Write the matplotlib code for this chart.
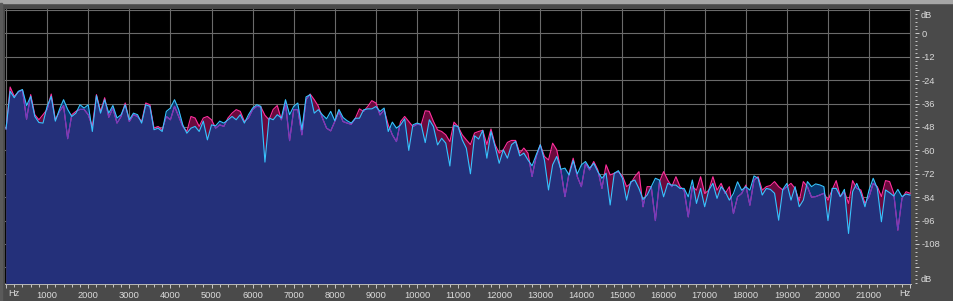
import numpy as np
import matplotlib.pyplot as plt
from matplotlib.ticker import MultipleLocator
from matplotlib.patches import Rectangle

plt.rcParams['font.family'] = ['Liberation Sans', 'DejaVu Sans']

# spectrum levels (dB) read every 100 Hz, 0 .. 22000 Hz
cyan_db = [
    -49, -29.7, -33, -29.7, -28.8, -37, -32.3, -42.6, -45.7, -46,
    -37.4, -32.3, -45, -39, -34, -39, -42.6, -40.9, -36.6, -38.3,
    -36.6, -50.3, -31.9, -40.9, -34, -40.9, -37, -43.4, -41.7, -36.6,
    -44.3, -40.9, -41.7, -46, -36.6, -37.4, -49.4, -48.6, -50.3, -40,
    -38.3, -34, -39, -46.9, -51.2, -48.6, -47.7, -50.3, -45, -54.6,
    -46.9, -47.4, -45, -46, -44.3, -42.6, -44.3, -41.7, -46, -41.7,
    -38.3, -36.6, -37.4, -66, -43.4, -44.3, -41.7, -43.4, -34, -41.7,
    -37.4, -35.7, -49.4, -32.6, -31.4, -40.9, -39.1, -41.8, -43.8, -40,
    -44.8, -39, -43.1, -44.8, -46, -43.5, -43.5, -39.2, -38.7, -38.7,
    -37.5, -40, -38.3, -50.3, -45.5, -48.6, -46.9, -43.8, -60, -46.9,
    -46, -46.6, -56, -44.3, -47.8, -57.2, -53.8, -56.3, -68, -47.2,
    -47.8, -54.6, -58.9, -72, -52.5, -54.2, -49.7, -64, -50.3, -58,
    -66.6, -59.7, -64, -57.1, -55.4, -62.8, -61.4, -64.9, -67.9, -62.3,
    -57.1, -64.9, -80.3, -67.4, -63.1, -69.7, -69.1, -72.6, -65.2, -72.1,
    -67.4, -65.7, -69.1, -66.6, -70.9, -74.3, -71.7, -88, -71.7, -70.4,
    -74.3, -85.5, -76.1, -75.2, -79.5, -85.2, -82.9, -78.6, -74.3, -75.2,
    -83.8, -76.9, -77.8, -77.8, -79.5, -79.5, -83.8, -75.2, -87.2, -79.5,
    -88.9, -80.4, -76.9, -84.6, -78.6, -81.2, -85.5, -82.1, -76.1, -80.4,
    -78.6, -80.4, -73.1, -74.3, -82.9, -79.5, -80, -82, -95.8, -80,
    -76.9, -85.5, -78.6, -88.9, -85.5, -76, -78.6, -77.2, -77.7, -78.6,
    -96, -79.5, -79.5, -83.7, -80, -102.6, -81.2, -76.9, -82, -88.9,
    -80.3, -74.3, -79.5, -96.6, -80.3, -81.7, -83.4, -80, -83.7, -82.4,
    -82.9,
]

pink_db = [
    -49, -27.5, -32.3, -30, -29, -44, -31.4, -41.7, -44.3, -41.7,
    -39, -31.1, -44.3, -40, -37, -54, -41.7, -40, -39, -39,
    -41.7, -47.7, -31.4, -40, -33, -43, -38.3, -46, -42.6, -35.7,
    -45.2, -41.7, -42.6, -45.2, -35.7, -36.6, -48.6, -47.7, -49.4, -42.6,
    -44.3, -37.4, -42.6, -47.7, -50.3, -42.6, -43.4, -47.7, -43.4, -42.6,
    -44.3, -48.6, -46.9, -47.7, -43.4, -40.9, -39.1, -40, -45.2, -43.4,
    -39.1, -37.4, -37.7, -42, -44.3, -39, -37, -44.3, -35.7, -55,
    -39.1, -39.1, -52, -34, -31.1, -34, -37.4, -43.5, -48.6, -50,
    -45.2, -40, -45.2, -46, -46.6, -43.5, -38.7, -40, -37.5, -34.5,
    -35.7, -41.8, -39.2, -46.9, -52, -55.5, -45.2, -42.6, -45.2, -47.8,
    -46.6, -46.9, -39.7, -40, -45.2, -49.5, -50.3, -52, -55.5, -45.5,
    -47.8, -52, -54.6, -57, -51.1, -50.3, -49.7, -57, -49, -57.1,
    -61.4, -59.7, -55.9, -54.9, -54.9, -61.4, -58.8, -61.4, -73.4, -63.1,
    -57.1, -63.1, -64.9, -56.3, -59.7, -70, -83.7, -71.7, -64, -73.4,
    -78.6, -66.6, -70, -65.7, -70, -79.5, -67.4, -72.6, -71.7, -70.9,
    -73.1, -78.6, -76.9, -73.5, -70.9, -88.9, -78.6, -78.6, -96, -76.1,
    -70.9, -75.2, -78.6, -73.5, -78.6, -80.4, -94.1, -78.6, -80.4, -73.5,
    -82.1, -80.4, -73.5, -80.4, -76.9, -82.1, -78.6, -92.4, -83.8, -82.1,
    -77.8, -88.1, -75.2, -73.5, -80.4, -78.6, -78, -76, -78.6, -80.3,
    -78.6, -76.9, -79.5, -86, -76, -78.6, -84, -83.7, -82.9, -82,
    -85.5, -80.3, -75.5, -83.7, -81.2, -87.2, -75.5, -79.5, -80.3, -87.2,
    -83.7, -76.9, -78.6, -83.7, -75.5, -76, -82, -100.9, -84.6, -81.2,
    -82,
]

freq_step = 100
x_ticks = list(range(0, 22001, 1000))
x_labels = [''] + [str(t) for t in x_ticks[1:-1]] + ['']
y_ticks = list(range(-120, 13, 12))
y_labels = ['' if t in (12, -120) else str(t) for t in y_ticks]

cyan = np.array(cyan_db)
pink = np.array(pink_db)
freqs = np.arange(len(cyan)) * freq_step
floor = -140

W, H = 954, 301
fig = plt.figure(figsize=(W / 100, H / 100), dpi=100, facecolor='#4a4a4a')
fig.patches.append(Rectangle((0, 1 - 3 / H), 1, 3 / H, transform=fig.transFigure,
                             color='#a6a6a6', zorder=0))
fig.patches.append(Rectangle((0, 0), 2 / W, 1 - 3 / H, transform=fig.transFigure,
                             color='#5a5a5a', zorder=0))

ax = fig.add_axes([5 / W, 18 / H, 906 / W, 274 / H], facecolor='black')
ax.set_axisbelow(True)

# fills: pink only -> maroon, cyan only -> dark blue, both -> navy
ax.fill_between(freqs, floor, pink, color='#6b0a3e', lw=0)
cyan_fill = ax.fill_between(freqs, floor, cyan, color='#0b3670', lw=0)
ax.fill_between(freqs, floor, np.minimum(pink, cyan), color='#24307a', lw=0)

ax.plot(freqs, pink, color='#ff2f9c', lw=0.8)
purple, = ax.plot(freqs, pink, color='#6a3fc0', lw=0.8)
purple.set_clip_path(cyan_fill.get_paths()[0], ax.transData)
ax.plot(freqs, cyan, color='#36c3ff', lw=0.8)

ax.set_xlim(-25, 22020)
ax.set_ylim(-128, 12.5)

ax.set_xticks(x_ticks, x_labels)
ax.xaxis.set_minor_locator(MultipleLocator(200))
ax.set_yticks(y_ticks, y_labels)
ax.yaxis.set_minor_locator(MultipleLocator(2))
ax.yaxis.tick_right()
ax.grid(which='major', color='#6a6a6a', lw=0.8)

for side in ('top', 'left'):
    ax.spines[side].set_visible(False)
ax.spines['right'].set_position(('outward', 3))
ax.spines['right'].set_visible(False)
ax.spines['bottom'].set_position(('outward', 1))
ax.spines['bottom'].set_color('#b8b8b8')
ax.spines['bottom'].set_linewidth(0.7)

ax.tick_params(axis='x', which='major', direction='out', length=3, width=0.7,
               color='#c8c8c8', labelsize=6.7, labelcolor='#dadada', pad=2)
ax.tick_params(axis='x', which='minor', direction='out', length=2, width=0.7,
               color='#c8c8c8')
ax.tick_params(axis='y', which='major', direction='out', length=3, width=0.7,
               color='#d0d0d0', labelsize=6.7, labelcolor='#dadada', pad=1.5)
ax.tick_params(axis='y', which='minor', direction='out', length=1.2, width=0.7,
               color='#c8c8c8')

txt = dict(fontsize=6.7, color='#dadada', va='center')
fig.text(13.7 / W, 1 - 294 / H, 'Hz', ha='center', **txt)
fig.text(905 / W, 1 - 294 / H, 'Hz', ha='center', **txt)
fig.text(921 / W, 1 - 15 / H, 'dB', ha='left', **txt)
fig.text(921 / W, 1 - 279 / H, 'dB', ha='left', **txt)

fig.savefig('out.png', dpi=100, facecolor=fig.get_facecolor())
